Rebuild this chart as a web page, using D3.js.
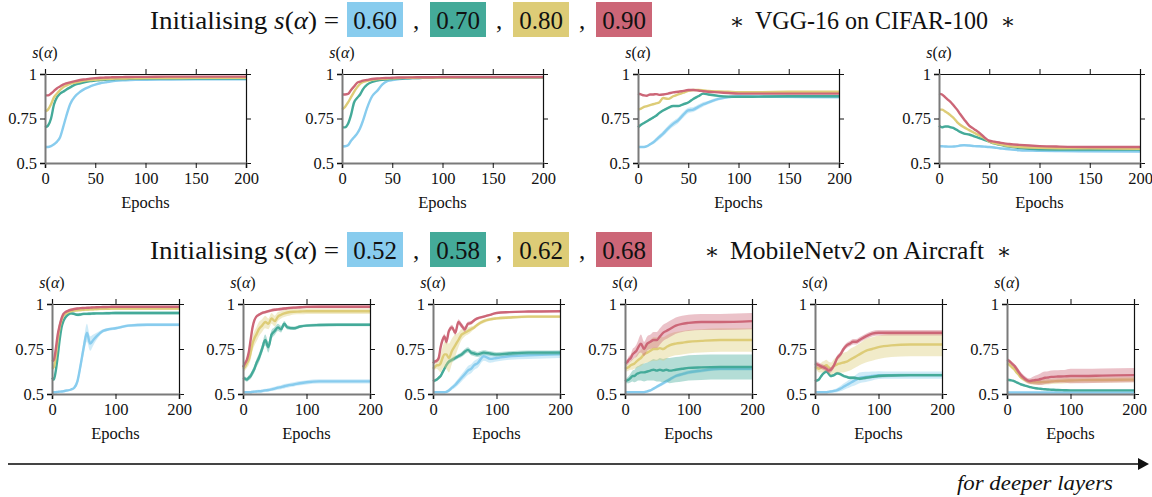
<!DOCTYPE html>
<meta charset='utf-8'>
<head>
  <title>s(alpha) during training</title>
</head>

<style>
body {
  margin: 0;
  background: white;
}

svg text {
  font-family: "Liberation Serif", "DejaVu Serif", serif;
  fill: #111;
}

.tick text {
  font-size: 16.5px;
}

.spine-lb path.domain {
  stroke: #7a7a7a;
  stroke-width: 2;
}

.spine-tr path.domain {
  stroke: #111;
  stroke-width: 1.2;
}

.tick line {
  stroke: #111;
  stroke-width: 1;
}

.mean {
  fill: none;
  stroke-width: 2.4;
}

.band {
  opacity: 0.4;
}
</style>

<body>
<svg width='1152' height='497'></svg>

<script src='https://cdn.jsdelivr.net/npm/d3@7'></script>
<script>
// shared epoch grid the values were read at
var epochs = [0, 3, 6, 9, 12, 15, 18, 21, 25, 30, 35, 40, 45, 50, 55, 60, 65, 70, 80, 90, 100, 120, 150, 200];

var colours = ['#88CCEE', '#44AA99', '#DDCC77', '#CC6677'];
var vggInit = ['0.60', '0.70', '0.80', '0.90'];
var mobInit = ['0.52', '0.58', '0.62', '0.68'];
var topTicks = [0, 50, 100, 150, 200];
var bottomTicks = [0, 100, 200];
var yTicks = [0.5, 0.75, 1];

// VGG-16 on CIFAR-100, series order: blue, teal, yellow, red
var vgg1 = [
  [0.59, 0.59, 0.595, 0.605, 0.62, 0.645, 0.70, 0.76, 0.83, 0.875, 0.90, 0.918, 0.93, 0.94, 0.948, 0.953, 0.958, 0.962, 0.965, 0.967, 0.968, 0.969, 0.97, 0.97],
  [0.70, 0.71, 0.75, 0.83, 0.87, 0.89, 0.90, 0.912, 0.925, 0.94, 0.948, 0.955, 0.96, 0.963, 0.966, 0.968, 0.97, 0.971, 0.972, 0.973, 0.974, 0.975, 0.975, 0.975],
  [0.79, 0.80, 0.83, 0.87, 0.89, 0.91, 0.925, 0.935, 0.945, 0.952, 0.958, 0.963, 0.966, 0.968, 0.97, 0.972, 0.973, 0.974, 0.975, 0.976, 0.977, 0.977, 0.978, 0.978],
  [0.88, 0.88, 0.89, 0.905, 0.92, 0.93, 0.94, 0.947, 0.953, 0.96, 0.966, 0.97, 0.974, 0.977, 0.979, 0.98, 0.981, 0.982, 0.983, 0.984, 0.984, 0.985, 0.985, 0.985]
];
var vgg1Band = [0.003, 0.002, 0.002, 0.002];

var vgg2 = [
  [0.593, 0.594, 0.60, 0.625, 0.645, 0.665, 0.695, 0.74, 0.81, 0.875, 0.905, 0.94, 0.96, 0.966, 0.97, 0.973, 0.975, 0.977, 0.978, 0.979, 0.98, 0.98, 0.98, 0.98],
  [0.70, 0.70, 0.72, 0.77, 0.84, 0.865, 0.885, 0.915, 0.94, 0.955, 0.963, 0.968, 0.97, 0.972, 0.974, 0.975, 0.976, 0.977, 0.978, 0.979, 0.98, 0.98, 0.98, 0.98],
  [0.80, 0.815, 0.84, 0.87, 0.90, 0.925, 0.945, 0.955, 0.962, 0.968, 0.971, 0.973, 0.975, 0.976, 0.977, 0.978, 0.978, 0.979, 0.98, 0.98, 0.98, 0.981, 0.981, 0.981],
  [0.886, 0.885, 0.888, 0.91, 0.93, 0.95, 0.957, 0.963, 0.967, 0.972, 0.975, 0.977, 0.978, 0.979, 0.98, 0.98, 0.981, 0.981, 0.982, 0.982, 0.983, 0.983, 0.983, 0.983]
];
var vgg2Band = [0.005, 0.002, 0.002, 0.002];

var vgg3 = [
  [0.59, 0.59, 0.59, 0.595, 0.605, 0.615, 0.63, 0.645, 0.665, 0.695, 0.72, 0.74, 0.77, 0.795, 0.80, 0.815, 0.83, 0.84, 0.86, 0.87, 0.875, 0.873, 0.872, 0.87],
  [0.70, 0.715, 0.725, 0.735, 0.745, 0.755, 0.765, 0.78, 0.795, 0.81, 0.82, 0.82, 0.83, 0.84, 0.86, 0.875, 0.89, 0.885, 0.877, 0.873, 0.872, 0.873, 0.875, 0.875],
  [0.80, 0.805, 0.815, 0.82, 0.825, 0.83, 0.835, 0.84, 0.865, 0.86, 0.875, 0.885, 0.895, 0.905, 0.91, 0.91, 0.908, 0.905, 0.902, 0.90, 0.898, 0.898, 0.90, 0.90],
  [0.89, 0.885, 0.88, 0.878, 0.885, 0.885, 0.887, 0.883, 0.885, 0.89, 0.897, 0.90, 0.905, 0.91, 0.91, 0.907, 0.903, 0.90, 0.897, 0.893, 0.89, 0.89, 0.89, 0.89]
];
var vgg3Band = [
  [0.004, 0.004, 0.005, 0.006, 0.008, 0.01, 0.012, 0.014, 0.015, 0.016, 0.016, 0.016, 0.016, 0.015, 0.014, 0.013, 0.012, 0.01, 0.009, 0.008, 0.008, 0.008, 0.008, 0.008],
  0.005, 0.004, 0.003
];

var vgg4 = [
  [0.595, 0.594, 0.593, 0.592, 0.592, 0.593, 0.595, 0.598, 0.60, 0.598, 0.595, 0.594, 0.592, 0.59, 0.587, 0.583, 0.58, 0.577, 0.572, 0.57, 0.568, 0.567, 0.566, 0.565],
  [0.71, 0.70, 0.705, 0.705, 0.70, 0.695, 0.685, 0.675, 0.665, 0.66, 0.65, 0.64, 0.63, 0.62, 0.61, 0.603, 0.597, 0.592, 0.585, 0.58, 0.577, 0.576, 0.575, 0.575],
  [0.80, 0.80, 0.79, 0.78, 0.765, 0.75, 0.73, 0.715, 0.70, 0.685, 0.67, 0.655, 0.64, 0.62, 0.612, 0.605, 0.60, 0.595, 0.59, 0.587, 0.585, 0.583, 0.582, 0.58],
  [0.89, 0.885, 0.87, 0.855, 0.84, 0.82, 0.80, 0.775, 0.745, 0.71, 0.69, 0.67, 0.645, 0.625, 0.62, 0.615, 0.61, 0.607, 0.602, 0.598, 0.595, 0.592, 0.59, 0.59]
];
var vgg4Band = [0.005, 0.003, 0.003, 0.003];

// MobileNetv2 on Aircraft
var mob1 = [
  [0.51, 0.51, 0.51, 0.512, 0.513, 0.514, 0.515, 0.518, 0.52, 0.525, 0.535, 0.57, 0.66, 0.76, 0.84, 0.78, 0.80, 0.82, 0.85, 0.86, 0.865, 0.88, 0.885, 0.885],
  [0.59, 0.58, 0.63, 0.71, 0.80, 0.87, 0.905, 0.925, 0.94, 0.948, 0.945, 0.94, 0.942, 0.945, 0.945, 0.946, 0.947, 0.948, 0.948, 0.949, 0.95, 0.95, 0.95, 0.95],
  [0.64, 0.65, 0.71, 0.80, 0.87, 0.91, 0.935, 0.945, 0.955, 0.96, 0.963, 0.965, 0.967, 0.968, 0.969, 0.97, 0.971, 0.972, 0.973, 0.974, 0.975, 0.975, 0.975, 0.975],
  [0.68, 0.69, 0.75, 0.83, 0.88, 0.92, 0.945, 0.955, 0.962, 0.968, 0.972, 0.975, 0.977, 0.978, 0.979, 0.98, 0.981, 0.982, 0.983, 0.984, 0.985, 0.985, 0.985, 0.985]
];
var mob1Band = [
  [0.005, 0.005, 0.005, 0.005, 0.005, 0.005, 0.005, 0.005, 0.005, 0.006, 0.008, 0.02, 0.03, 0.04, 0.05, 0.04, 0.03, 0.02, 0.01, 0.008, 0.008, 0.008, 0.008, 0.008],
  0.008, 0.008, 0.005
];

var mob2 = [
  [0.51, 0.51, 0.51, 0.51, 0.51, 0.512, 0.513, 0.514, 0.515, 0.517, 0.52, 0.522, 0.526, 0.53, 0.535, 0.538, 0.543, 0.547, 0.553, 0.56, 0.565, 0.57, 0.57, 0.57],
  [0.59, 0.585, 0.58, 0.59, 0.60, 0.62, 0.64, 0.67, 0.70, 0.75, 0.80, 0.76, 0.83, 0.85, 0.87, 0.86, 0.89, 0.87, 0.865, 0.875, 0.88, 0.883, 0.885, 0.885],
  [0.64, 0.65, 0.67, 0.69, 0.73, 0.78, 0.81, 0.83, 0.86, 0.88, 0.90, 0.89, 0.92, 0.905, 0.93, 0.94, 0.948, 0.953, 0.957, 0.958, 0.96, 0.96, 0.96, 0.96],
  [0.65, 0.67, 0.69, 0.73, 0.80, 0.87, 0.91, 0.93, 0.94, 0.95, 0.955, 0.96, 0.965, 0.968, 0.97, 0.972, 0.975, 0.977, 0.98, 0.982, 0.984, 0.985, 0.985, 0.985]
];
var mob2Band = [
  [0.006, 0.006, 0.006, 0.006, 0.006, 0.007, 0.007, 0.008, 0.008, 0.008, 0.009, 0.009, 0.01, 0.01, 0.011, 0.011, 0.012, 0.012, 0.012, 0.012, 0.012, 0.012, 0.012, 0.012],
  [0.012, 0.012, 0.012, 0.014, 0.016, 0.018, 0.02, 0.022, 0.025, 0.025, 0.03, 0.03, 0.025, 0.022, 0.02, 0.018, 0.015, 0.012, 0.01, 0.008, 0.008, 0.008, 0.008, 0.008],
  [0.02, 0.02, 0.025, 0.03, 0.04, 0.04, 0.04, 0.04, 0.04, 0.035, 0.035, 0.03, 0.03, 0.03, 0.025, 0.02, 0.02, 0.02, 0.015, 0.015, 0.015, 0.015, 0.015, 0.015],
  0.008
];

var mob3 = [
  [0.51, 0.51, 0.51, 0.51, 0.51, 0.51, 0.51, 0.512, 0.52, 0.535, 0.55, 0.57, 0.59, 0.61, 0.63, 0.64, 0.66, 0.67, 0.71, 0.695, 0.70, 0.71, 0.715, 0.72],
  [0.57, 0.575, 0.58, 0.59, 0.60, 0.62, 0.64, 0.66, 0.68, 0.69, 0.70, 0.71, 0.72, 0.735, 0.745, 0.73, 0.725, 0.72, 0.73, 0.725, 0.72, 0.725, 0.73, 0.73],
  [0.64, 0.65, 0.66, 0.66, 0.67, 0.70, 0.72, 0.72, 0.70, 0.74, 0.77, 0.80, 0.83, 0.84, 0.85, 0.86, 0.87, 0.885, 0.905, 0.915, 0.92, 0.925, 0.93, 0.93],
  [0.67, 0.68, 0.685, 0.70, 0.76, 0.80, 0.82, 0.79, 0.85, 0.87, 0.84, 0.90, 0.88, 0.86, 0.89, 0.895, 0.91, 0.92, 0.93, 0.94, 0.95, 0.955, 0.958, 0.96]
];
var mob3Band = [
  [0.005, 0.005, 0.005, 0.005, 0.005, 0.005, 0.006, 0.008, 0.01, 0.012, 0.015, 0.018, 0.02, 0.022, 0.025, 0.025, 0.025, 0.025, 0.025, 0.022, 0.02, 0.02, 0.02, 0.02],
  [0.008, 0.008, 0.008, 0.01, 0.01, 0.012, 0.012, 0.012, 0.012, 0.012, 0.012, 0.012, 0.014, 0.015, 0.015, 0.015, 0.015, 0.014, 0.013, 0.012, 0.012, 0.012, 0.012, 0.012],
  [0.01, 0.015, 0.02, 0.03, 0.05, 0.06, 0.07, 0.08, 0.08, 0.07, 0.06, 0.04, 0.03, 0.02, 0.02, 0.015, 0.01, 0.01, 0.01, 0.008, 0.008, 0.008, 0.008, 0.008],
  [0.01, 0.01, 0.01, 0.012, 0.015, 0.015, 0.015, 0.015, 0.015, 0.015, 0.015, 0.015, 0.015, 0.015, 0.012, 0.01, 0.01, 0.008, 0.006, 0.005, 0.005, 0.005, 0.005, 0.005]
];

var mob4 = [
  [0.51, 0.51, 0.51, 0.51, 0.51, 0.51, 0.51, 0.51, 0.51, 0.51, 0.515, 0.52, 0.53, 0.54, 0.55, 0.56, 0.57, 0.58, 0.60, 0.61, 0.62, 0.63, 0.64, 0.64],
  [0.57, 0.575, 0.58, 0.59, 0.60, 0.60, 0.61, 0.615, 0.62, 0.62, 0.625, 0.63, 0.635, 0.63, 0.635, 0.63, 0.635, 0.63, 0.635, 0.64, 0.645, 0.648, 0.65, 0.65],
  [0.64, 0.645, 0.65, 0.66, 0.665, 0.67, 0.68, 0.69, 0.70, 0.72, 0.73, 0.74, 0.75, 0.75, 0.755, 0.75, 0.76, 0.77, 0.78, 0.785, 0.79, 0.795, 0.80, 0.80],
  [0.67, 0.675, 0.69, 0.70, 0.72, 0.73, 0.74, 0.76, 0.78, 0.75, 0.78, 0.79, 0.80, 0.80, 0.82, 0.84, 0.85, 0.86, 0.88, 0.89, 0.895, 0.90, 0.90, 0.905]
];
var mob4Band = [
  [0.004, 0.004, 0.004, 0.004, 0.004, 0.004, 0.004, 0.004, 0.005, 0.005, 0.006, 0.007, 0.008, 0.009, 0.01, 0.01, 0.01, 0.01, 0.01, 0.01, 0.01, 0.01, 0.01, 0.01],
  [0.01, 0.015, 0.02, 0.025, 0.03, 0.035, 0.04, 0.04, 0.045, 0.05, 0.05, 0.055, 0.06, 0.06, 0.065, 0.065, 0.065, 0.07, 0.07, 0.07, 0.07, 0.07, 0.07, 0.07],
  [0.015, 0.02, 0.02, 0.025, 0.03, 0.03, 0.035, 0.04, 0.045, 0.05, 0.055, 0.06, 0.065, 0.065, 0.065, 0.065, 0.065, 0.065, 0.065, 0.065, 0.065, 0.065, 0.065, 0.065],
  [0.015, 0.015, 0.02, 0.02, 0.03, 0.03, 0.035, 0.04, 0.05, 0.04, 0.04, 0.04, 0.045, 0.045, 0.045, 0.045, 0.045, 0.045, 0.045, 0.045, 0.045, 0.045, 0.045, 0.045]
];

var mob5 = [
  [0.51, 0.51, 0.51, 0.51, 0.51, 0.51, 0.51, 0.512, 0.514, 0.517, 0.522, 0.53, 0.54, 0.55, 0.56, 0.57, 0.58, 0.59, 0.595, 0.60, 0.605, 0.605, 0.605, 0.605],
  [0.57, 0.575, 0.58, 0.595, 0.61, 0.62, 0.625, 0.615, 0.60, 0.605, 0.615, 0.61, 0.60, 0.595, 0.59, 0.59, 0.588, 0.585, 0.59, 0.595, 0.60, 0.603, 0.605, 0.605],
  [0.65, 0.645, 0.64, 0.645, 0.65, 0.655, 0.66, 0.65, 0.64, 0.655, 0.665, 0.67, 0.675, 0.68, 0.69, 0.70, 0.71, 0.72, 0.74, 0.75, 0.76, 0.77, 0.775, 0.775],
  [0.67, 0.665, 0.66, 0.655, 0.65, 0.645, 0.64, 0.63, 0.635, 0.66, 0.70, 0.72, 0.75, 0.77, 0.78, 0.79, 0.79, 0.80, 0.82, 0.835, 0.84, 0.84, 0.84, 0.84]
];
var mob5Band = [
  [0.004, 0.004, 0.004, 0.004, 0.004, 0.004, 0.005, 0.006, 0.008, 0.01, 0.012, 0.015, 0.018, 0.02, 0.022, 0.025, 0.028, 0.03, 0.028, 0.025, 0.022, 0.02, 0.02, 0.02],
  0.008,
  [0.015, 0.015, 0.02, 0.025, 0.03, 0.03, 0.03, 0.03, 0.035, 0.04, 0.045, 0.05, 0.055, 0.055, 0.06, 0.06, 0.06, 0.06, 0.065, 0.065, 0.065, 0.065, 0.065, 0.065],
  0.015
];

var mob6 = [
  [0.508, 0.508, 0.508, 0.508, 0.508, 0.508, 0.508, 0.508, 0.508, 0.508, 0.508, 0.508, 0.508, 0.508, 0.508, 0.508, 0.508, 0.508, 0.508, 0.508, 0.508, 0.508, 0.508, 0.508],
  [0.58, 0.578, 0.576, 0.574, 0.57, 0.565, 0.56, 0.555, 0.55, 0.545, 0.54, 0.535, 0.532, 0.53, 0.528, 0.526, 0.525, 0.524, 0.522, 0.521, 0.52, 0.52, 0.52, 0.52],
  [0.67, 0.665, 0.655, 0.645, 0.635, 0.62, 0.61, 0.595, 0.585, 0.575, 0.568, 0.565, 0.565, 0.565, 0.566, 0.567, 0.568, 0.57, 0.572, 0.574, 0.575, 0.577, 0.578, 0.58],
  [0.69, 0.685, 0.675, 0.665, 0.655, 0.64, 0.625, 0.61, 0.595, 0.58, 0.572, 0.575, 0.578, 0.58, 0.585, 0.59, 0.592, 0.595, 0.597, 0.598, 0.60, 0.60, 0.602, 0.605]
];
var mob6Band = [
  0.003,
  0.004,
  [0.01, 0.01, 0.01, 0.01, 0.01, 0.01, 0.01, 0.01, 0.012, 0.012, 0.012, 0.014, 0.015, 0.015, 0.015, 0.015, 0.015, 0.015, 0.015, 0.015, 0.015, 0.015, 0.015, 0.015],
  [0.01, 0.01, 0.01, 0.012, 0.012, 0.015, 0.015, 0.015, 0.015, 0.015, 0.015, 0.02, 0.025, 0.03, 0.035, 0.035, 0.035, 0.035, 0.035, 0.035, 0.04, 0.04, 0.04, 0.04]
];

var svg = d3.select('svg');

function bandAt(band, i) {
  return Array.isArray(band) ? band[i] : band;
}

function drawPanel(series, bands, left, top, w, h, xTicks) {
  var x = d3.scaleLinear().domain([0, 200]).range([left, left + w]);
  var y = d3.scaleLinear().domain([0.5, 1]).range([top + h, top]);
  var g = svg.append('g');

  // data first, spines over it
  series.forEach(function(vals, k) {
    var pts = epochs.map(function(e, i) {
      return {e: e, v: vals[i], b: bandAt(bands[k], i)};
    });
    g.append('path')
      .attr('class', 'band')
      .attr('fill', colours[k])
      .attr('d', d3.area()
        .curve(d3.curveMonotoneX)
        .x(function(d) { return x(d.e); })
        .y0(function(d) { return y(Math.max(0.5, d.v - d.b)); })
        .y1(function(d) { return y(Math.min(1, d.v + d.b)); })(pts));
    g.append('path')
      .attr('class', 'mean')
      .attr('stroke', colours[k])
      .attr('d', d3.line()
        .curve(d3.curveMonotoneX)
        .x(function(d) { return x(d.e); })
        .y(function(d) { return y(d.v); })(pts));
  });

  g.append('g')
    .attr('class', 'spine-tr')
    .attr('transform', 'translate(0,' + top + ')')
    .call(d3.axisTop(x).tickValues(xTicks).tickSize(5).tickFormat(''));
  g.append('g')
    .attr('class', 'spine-tr')
    .attr('transform', 'translate(' + (left + w) + ',0)')
    .call(d3.axisRight(y).tickValues(yTicks).tickSize(5).tickFormat(''));
  g.append('g')
    .attr('class', 'spine-lb')
    .attr('transform', 'translate(0,' + (top + h) + ')')
    .call(d3.axisBottom(x).tickValues(xTicks).tickSize(5).tickPadding(4).tickFormat(d3.format('d')));
  g.append('g')
    .attr('class', 'spine-lb')
    .attr('transform', 'translate(' + left + ',0)')
    .call(d3.axisLeft(y).tickValues(yTicks).tickSize(5).tickPadding(3).tickFormat(function(d) { return String(d); }));

  g.selectAll('.tick text').attr('fill', '#111');

  var lab = g.append('text')
    .attr('x', left)
    .attr('y', top - 16)
    .attr('text-anchor', 'middle')
    .style('font-size', '16px');
  lab.append('tspan').style('font-style', 'italic').text('s');
  lab.append('tspan').text('(');
  lab.append('tspan').style('font-style', 'italic').text('α');
  lab.append('tspan').text(')');

  g.append('text')
    .attr('x', left + w / 2)
    .attr('y', top + h + 45)
    .attr('text-anchor', 'middle')
    .style('font-size', '16.5px')
    .text('Epochs');
}

function drawTitle(inits, baseline, model, starX, modelEnd) {
  var t = svg.append('text')
    .attr('x', 150)
    .attr('y', baseline)
    .attr('textLength', 189)
    .attr('lengthAdjust', 'spacingAndGlyphs')
    .style('font-size', '25px');
  t.append('tspan').text('Initialising ');
  t.append('tspan').style('font-style', 'italic').text('s');
  t.append('tspan').text('(');
  t.append('tspan').style('font-style', 'italic').text('α');
  t.append('tspan').text(') =');

  var boxX = d3.scaleLinear().domain([0, 1]).range([347, 430]);
  inits.forEach(function(v, k) {
    var bx = boxX(k);
    svg.append('rect')
      .attr('x', bx)
      .attr('y', baseline - 27)
      .attr('width', 56)
      .attr('height', 35)
      .attr('fill', colours[k]);
    svg.append('text')
      .attr('x', bx + 28)
      .attr('y', baseline)
      .attr('text-anchor', 'middle')
      .style('font-size', '25px')
      .text(v);
    if (k < inits.length - 1) {
      svg.append('text')
        .attr('x', bx + 69)
        .attr('y', baseline)
        .attr('text-anchor', 'middle')
        .style('font-size', '25px')
        .text(',');
    }
  });

  svg.append('text')
    .attr('x', starX)
    .attr('y', baseline)
    .attr('text-anchor', 'middle')
    .style('font-size', '22px')
    .text('∗');
  svg.append('text')
    .attr('x', starX + 18)
    .attr('y', baseline)
    .attr('textLength', modelEnd - starX - 18)
    .attr('lengthAdjust', 'spacingAndGlyphs')
    .style('font-size', '25px')
    .text(model);
  svg.append('text')
    .attr('x', modelEnd + 20)
    .attr('y', baseline)
    .attr('text-anchor', 'middle')
    .style('font-size', '22px')
    .text('∗');
}

drawTitle(vggInit, 29, 'VGG-16 on CIFAR-100', 737, 988);
drawTitle(mobInit, 259, 'MobileNetv2 on Aircraft', 712, 984);

var topPanels = [[vgg1, vgg1Band], [vgg2, vgg2Band], [vgg3, vgg3Band], [vgg4, vgg4Band]];
var topLefts = [45, 342, 638, 939];
topPanels.forEach(function(p, i) {
  drawPanel(p[0], p[1], topLefts[i], 74, 201, 89, topTicks);
});

var bottomPanels = [[mob1, mob1Band], [mob2, mob2Band], [mob3, mob3Band], [mob4, mob4Band], [mob5, mob5Band], [mob6, mob6Band]];
var bottomLefts = [52, 243, 433, 625, 815, 1007];
bottomPanels.forEach(function(p, i) {
  drawPanel(p[0], p[1], bottomLefts[i], 304, 127, 90, bottomTicks);
});

// arrow along the bottom
svg.append('line')
  .attr('x1', 8).attr('x2', 1140)
  .attr('y1', 464).attr('y2', 464)
  .attr('stroke', '#444')
  .attr('stroke-width', 2);
svg.append('path')
  .attr('d', 'M1138,458 L1149,464 L1138,470 Z')
  .attr('fill', '#111');
svg.append('text')
  .attr('x', 957)
  .attr('y', 490)
  .attr('textLength', 156)
  .attr('lengthAdjust', 'spacingAndGlyphs')
  .style('font-size', '21px')
  .style('font-style', 'italic')
  .text('for deeper layers');
</script>
</body>
</html>
